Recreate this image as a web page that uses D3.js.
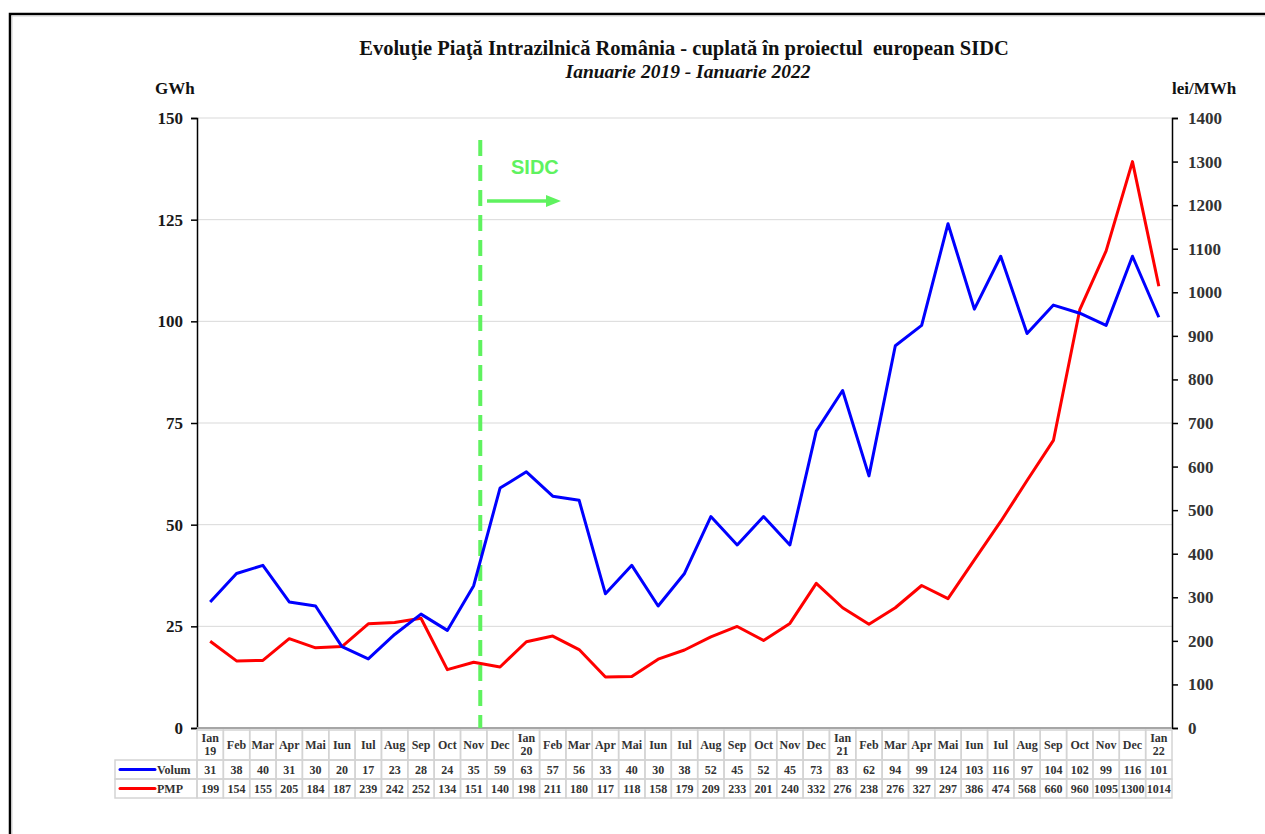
<!DOCTYPE html>
<html>
<head>
<meta charset="utf-8">
<script src="https://cdn.jsdelivr.net/npm/d3@7/dist/d3.min.js"></script>
<style>
  html, body { margin: 0; padding: 0; background: #fff; }
  svg { display: block; }
</style>
</head>
<body>
<svg id="chart" width="1265" height="834"></svg>
<script>
// Data
const months = ['Ian|19','Feb','Mar','Apr','Mai','Iun','Iul','Aug','Sep','Oct','Nov','Dec',
  'Ian|20','Feb','Mar','Apr','Mai','Iun','Iul','Aug','Sep','Oct','Nov','Dec',
  'Ian|21','Feb','Mar','Apr','Mai','Iun','Iul','Aug','Sep','Oct','Nov','Dec','Ian|22'];
const volum = [31,38,40,31,30,20,17,23,28,24,35,59,63,57,56,33,40,30,38,52,45,52,45,73,
  83,62,94,99,124,103,116,97,104,102,99,116,101];
const pmp = [199,154,155,205,184,187,239,242,252,134,151,140,198,211,180,117,118,158,179,209,233,201,240,332,
  276,238,276,327,297,386,474,568,660,960,1095,1300,1014];
const leftTicks = [0,25,50,75,100,125,150];
const rightTicks = [0,100,200,300,400,500,600,700,800,900,1000,1100,1200,1300,1400];
const sidcIndex = 10; // SIDC go-live marker sits in the Nov 2019 column

const SERIF = '"Liberation Serif", "Times New Roman", serif';
const BLUE = '#0000ff', RED = '#ff0000', GREEN = '#5ff25f';
const GRID = '#d9d9d9', CELL = '#d4d4d4';

const PLOT = { left: 197, right: 1172, top: 118, bottom: 728 };
const svg = d3.select('#chart');

// outer frame
svg.append('rect').attr('x', 10).attr('y', 14).attr('width', 1300).attr('height', 900)
  .attr('fill', 'none').attr('stroke', '#000').attr('stroke-width', 2.5);
svg.append('rect').attr('x', 12).attr('y', 16).attr('width', 1300).attr('height', 900)
  .attr('fill', 'none').attr('stroke', '#cfcfcf').attr('stroke-width', 1);

const x = d3.scaleBand().domain(d3.range(months.length)).range([PLOT.left, PLOT.right]).padding(0);
const bw = x.bandwidth();
const cx = (i) => x(i) + bw / 2;
const yL = d3.scaleLinear().domain([0, 150]).range([PLOT.bottom, PLOT.top]);
const yR = d3.scaleLinear().domain([0, 1400]).range([PLOT.bottom, PLOT.top]);

// title
svg.append('text').attr('x', 684).attr('y', 55).attr('text-anchor', 'middle')
  .attr('font-family', SERIF).attr('font-weight', 700).attr('font-size', '20.5px').attr('fill', '#111')
  .attr('xml:space', 'preserve')
  .text('Evoluţie Piaţă Intrazilnică România - cuplată în proiectul  european SIDC');
svg.append('text').attr('x', 688).attr('y', 78).attr('text-anchor', 'middle')
  .attr('font-family', SERIF).attr('font-weight', 700).attr('font-style', 'italic')
  .attr('font-size', '19.5px').attr('fill', '#111')
  .text('Ianuarie 2019 - Ianuarie 2022');

// unit labels
svg.append('text').attr('x', 155).attr('y', 94).attr('font-family', SERIF).attr('font-weight', 700)
  .attr('font-size', '17px').attr('fill', '#111').text('GWh');
svg.append('text').attr('x', 1172).attr('y', 94).attr('font-family', SERIF).attr('font-weight', 700)
  .attr('font-size', '17px').attr('fill', '#111').text('lei/MWh');

// gridlines
svg.append('g').selectAll('line').data(leftTicks.filter(d => d > 0)).join('line')
  .attr('x1', PLOT.left).attr('x2', PLOT.right)
  .attr('y1', d => yL(d)).attr('y2', d => yL(d))
  .attr('stroke', GRID).attr('stroke-width', 1);

// axes
const styleAxis = (g, color) => {
  g.select('.domain').attr('stroke', '#000').attr('stroke-width', 1.5);
  g.selectAll('.tick line').attr('stroke', '#000').attr('stroke-width', 1.5);
  g.selectAll('.tick text').attr('font-family', SERIF).attr('font-weight', 700)
    .attr('font-size', '17px').attr('fill', color);
};
svg.append('g').attr('transform', `translate(${PLOT.left},0)`)
  .call(d3.axisLeft(yL).tickValues(leftTicks).tickFormat(d3.format('d'))
    .tickSize(6).tickPadding(8).tickSizeOuter(6))
  .call(g => styleAxis(g, '#1a1a1a'));
svg.append('g').attr('transform', `translate(${PLOT.right},0)`)
  .call(d3.axisRight(yR).tickValues(rightTicks).tickFormat(d3.format('d'))
    .tickSize(6).tickPadding(10).tickSizeOuter(6))
  .call(g => styleAxis(g, '#333'));

// category axis line
svg.append('line').attr('x1', PLOT.left).attr('x2', PLOT.right)
  .attr('y1', PLOT.bottom).attr('y2', PLOT.bottom)
  .attr('stroke', '#a6a6a6').attr('stroke-width', 2);

// SIDC marker
const sx = x(sidcIndex) + bw * 0.75;
svg.append('line').attr('x1', sx).attr('x2', sx).attr('y1', 140).attr('y2', PLOT.bottom)
  .attr('stroke', GREEN).attr('stroke-width', 4).attr('stroke-dasharray', '16,9');
svg.append('text').attr('x', 511).attr('y', 174).attr('font-family', '"Liberation Sans", Arial, sans-serif')
  .attr('font-weight', 700).attr('font-size', '20px').attr('fill', GREEN).text('SIDC');
svg.append('line').attr('x1', 487).attr('x2', 549).attr('y1', 201).attr('y2', 201)
  .attr('stroke', GREEN).attr('stroke-width', 3.5);
svg.append('path').attr('d', 'M561,201 L546,195 L546,207 Z').attr('fill', GREEN);

// series lines
const lineL = d3.line().x((d, i) => cx(i)).y(d => yL(d));
const lineR = d3.line().x((d, i) => cx(i)).y(d => yR(d));
svg.append('path').datum(pmp).attr('d', lineR).attr('fill', 'none')
  .attr('stroke', RED).attr('stroke-width', 3).attr('stroke-linejoin', 'round');
svg.append('path').datum(volum).attr('d', lineL).attr('fill', 'none')
  .attr('stroke', BLUE).attr('stroke-width', 3).attr('stroke-linejoin', 'round');

// data table
const T = { legendX: 115, top: 730, headerH: 30, rowH: 19 };
const table = svg.append('g').attr('font-family', SERIF).attr('font-weight', 700)
  .attr('font-size', '12px').attr('fill', '#333');

const rows = [
  { name: 'Volum', color: BLUE, values: volum },
  { name: 'PMP', color: RED, values: pmp },
];

// header cells
const head = table.append('g');
head.selectAll('rect').data(months).join('rect')
  .attr('x', (d, i) => x(i)).attr('y', T.top).attr('width', bw).attr('height', T.headerH)
  .attr('fill', 'none').attr('stroke', CELL).attr('stroke-width', 1.5);
head.selectAll('text').data(months).join('text')
  .attr('text-anchor', 'middle')
  .each(function (d, i) {
    const parts = d.split('|');
    const t = d3.select(this);
    if (parts.length === 1) {
      t.attr('x', cx(i)).attr('y', T.top + T.headerH / 2 + 4).text(d);
    } else {
      parts.forEach((p, k) => {
        t.append('tspan').attr('x', cx(i)).attr('y', T.top + 12 + k * 13).text(p);
      });
    }
  });

rows.forEach((row, r) => {
  const y0 = T.top + T.headerH + r * T.rowH;
  const g = table.append('g');
  g.append('rect').attr('x', T.legendX).attr('y', y0).attr('width', PLOT.left - T.legendX)
    .attr('height', T.rowH).attr('fill', 'none').attr('stroke', CELL).attr('stroke-width', 1.5);
  g.append('line').attr('x1', T.legendX + 5).attr('x2', T.legendX + 40)
    .attr('y1', y0 + T.rowH / 2).attr('y2', y0 + T.rowH / 2)
    .attr('stroke', row.color).attr('stroke-width', 3).attr('stroke-linecap', 'round');
  g.append('text').attr('x', T.legendX + 42).attr('y', y0 + T.rowH / 2 + 4).text(row.name);
  g.selectAll('rect.cell').data(row.values).join('rect').attr('class', 'cell')
    .attr('x', (d, i) => x(i)).attr('y', y0).attr('width', bw).attr('height', T.rowH)
    .attr('fill', 'none').attr('stroke', CELL).attr('stroke-width', 1.5);
  g.selectAll('text.val').data(row.values).join('text').attr('class', 'val')
    .attr('x', (d, i) => cx(i)).attr('y', y0 + T.rowH / 2 + 4).attr('text-anchor', 'middle')
    .text(d => d);
});
</script>
</body>
</html>
